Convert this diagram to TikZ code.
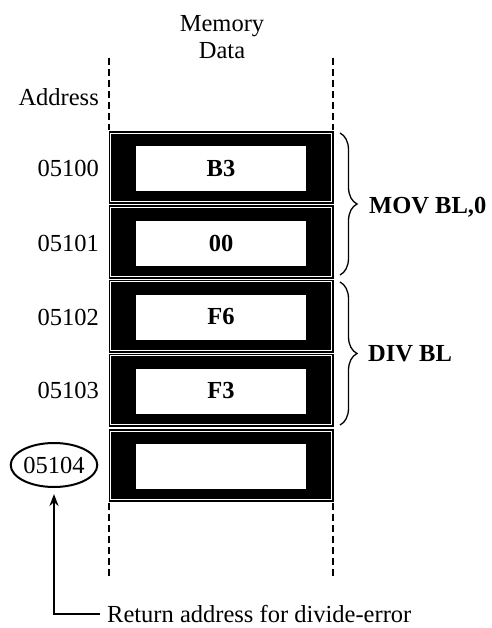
\documentclass[tikz,border=0pt]{standalone}
\usepackage{fontspec}
\setmainfont{Liberation Serif}
\usetikzlibrary{shapes.geometric,arrows.meta,decorations.pathreplacing}
\begin{document}
\begin{tikzpicture}[x=1pt,y=-1pt,
  txt/.style={font=\fontsize{24.5}{27}\selectfont, inner sep=0pt},
  btxt/.style={font=\fontsize{24.5}{27}\selectfont\bfseries, inner sep=0pt},
  cellbox/.style={draw=black, line width=1pt, fill=black, minimum width=224pt, minimum height=72pt, inner sep=0pt},
  innerbox/.style={fill=white, minimum width=170pt, minimum height=45pt, inner sep=0pt, font=\fontsize{24.5}{27}\selectfont\bfseries},
  guide/.style={line width=1.2pt, dash pattern=on 7pt off 4pt},
  bracestyle/.style={line width=1.3pt, decorate, decoration={brace, amplitude=17pt}}
]
\useasboundingbox (0,0) rectangle (491,628);

% header
\node[txt, align=center] (hdr) at (222,37) {Memory\\Data};
\node[txt, anchor=east] (addr) at (99,97) {Address};

% dashed guides
\coordinate (gl1) at (109,58);
\coordinate (gl2) at (109,130);
\coordinate (gr1) at (333,58);
\coordinate (gr2) at (333,130);
\coordinate (gl3) at (109,503);
\coordinate (gl4) at (109,576);
\coordinate (gr3) at (333,503);
\coordinate (gr4) at (333,576);
\draw[guide] (gl1) -- (gl2);
\draw[guide] (gr1) -- (gr2);
\draw[guide] (gl3) -- (gl4);
\draw[guide] (gr3) -- (gr4);

% cells
\foreach \n/\y/\v in {1/167.5/B3, 2/242/00, 3/316/F6, 4/390/F3, 5/465.5/{}} {
  \node[cellbox] (c\n) at (221,\y) {};
  \draw[white, line width=1pt] ([shift={(2.3,2.3)}]c\n.north west) rectangle ([shift={(-2.3,-2.3)}]c\n.south east);
  \node[innerbox] (v\n) at (221,\y+1) {\v};
}

% addresses
\node[txt, anchor=east] (a1) at (99,168) {05100};
\node[txt, anchor=east] (a2) at (99,243) {05101};
\node[txt, anchor=east] (a3) at (99,317) {05102};
\node[txt, anchor=east] (a4) at (99,390) {05103};
\node[ellipse, draw, line width=2pt, minimum width=85pt, minimum height=44pt, inner sep=0pt,
      font=\fontsize{24.5}{27}\selectfont] (a5) at (54,465) {05104};

% braces
\coordinate (b1s) at (340,133);
\coordinate (b1e) at (340,275);
\coordinate (b2s) at (340,282);
\coordinate (b2e) at (340,425);
\draw[bracestyle] (b1s) -- (b1e);
\draw[bracestyle] (b2s) -- (b2e);
\node[btxt, anchor=west] (mov) at (369,207) {MOV BL,0};
\node[btxt, anchor=west] (div) at (368,354) {DIV BL};

% return address
\node[txt, anchor=west, inner sep=0pt] (ret) at (107,614) {Return address for divide-error};
\draw[line width=2pt, -{Stealth[length=12pt,width=9pt]}, shorten <=7pt, shorten >=6pt] (ret.west) -| (a5.south);
\end{tikzpicture}
\end{document}
